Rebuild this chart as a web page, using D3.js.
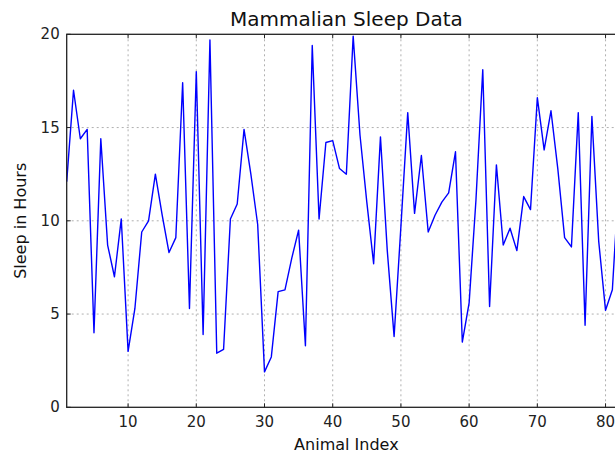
<!DOCTYPE html>
<html>
<head>
<meta charset="utf-8">
<script src="https://cdn.jsdelivr.net/npm/d3@7"></script>
<style>
  body { margin: 0; background: #fff; }
  svg { display: block; font-family: "DejaVu Sans", sans-serif; }
</style>
</head>
<body>
<div id="chart"></div>
<script>
// sleep_total per animal, in dataset order (index 1..83)
const sleepHours = [
  12.1, 17.0, 14.4, 14.9, 4.0, 14.4, 8.7, 7.0, 10.1, 3.0,
  5.3, 9.4, 10.0, 12.5, 10.3, 8.3, 9.1, 17.4, 5.3, 18.0,
  3.9, 19.7, 2.9, 3.1, 10.1, 10.9, 14.9, 12.5, 9.8, 1.9,
  2.7, 6.2, 6.3, 8.0, 9.5, 3.3, 19.4, 10.1, 14.2, 14.3,
  12.8, 12.5, 19.9, 14.6, 11.0, 7.7, 14.5, 8.4, 3.8, 9.7,
  15.8, 10.4, 13.5, 9.4, 10.3, 11.0, 11.5, 13.7, 3.5, 5.6,
  11.1, 18.1, 5.4, 13.0, 8.7, 9.6, 8.4, 11.3, 10.6, 16.6,
  13.8, 15.9, 12.8, 9.1, 8.6, 15.8, 4.4, 15.6, 8.9, 5.2,
  6.3, 12.5, 9.8
];
const xTicks = [10, 20, 30, 40, 50, 60, 70, 80];
const yTicks = [0, 5, 10, 15, 20];

const W = 615, H = 454;
const margin = { top: 34.3, left: 66.7 };
const plotW = 559.3, plotH = 373;

const svg = d3.select('#chart').append('svg')
    .attr('width', W)
    .attr('height', H);

const x = d3.scaleLinear()
    .domain([1, sleepHours.length])
    .range([margin.left, margin.left + plotW]);
const y = d3.scaleLinear()
    .domain([0, 20])
    .range([margin.top + plotH, margin.top]);

const pTop = margin.top, pBottom = margin.top + plotH;
const pLeft = margin.left, pRight = margin.left + plotW;

// grid
const grid = svg.append('g')
    .attr('stroke', '#b0b0b0')
    .attr('stroke-width', 1)
    .attr('stroke-dasharray', '2,3');
grid.selectAll('.vg').data(xTicks).enter().append('line')
    .attr('x1', (d) => x(d)).attr('x2', (d) => x(d))
    .attr('y1', pTop).attr('y2', pBottom);
grid.selectAll('.hg').data(yTicks.slice(1, -1)).enter().append('line')
    .attr('y1', (d) => y(d)).attr('y2', (d) => y(d))
    .attr('x1', pLeft).attr('x2', pRight);

// data line
const line = d3.line()
    .x((d, i) => x(i + 1))
    .y((d) => y(d));
svg.append('path')
    .datum(sleepHours)
    .attr('d', line)
    .attr('fill', 'none')
    .attr('stroke', '#0000ff')
    .attr('stroke-width', 1.4)
    .attr('stroke-linejoin', 'round');

// frame
svg.append('rect')
    .attr('x', pLeft).attr('y', pTop)
    .attr('width', plotW).attr('height', plotH)
    .attr('fill', 'none')
    .attr('stroke', '#222')
    .attr('stroke-width', 1.3);

// inward ticks
const ticks = svg.append('g').attr('stroke', '#222').attr('stroke-width', 1);
xTicks.forEach((t) => {
    ticks.append('line').attr('x1', x(t)).attr('x2', x(t))
        .attr('y1', pBottom).attr('y2', pBottom - 4);
    ticks.append('line').attr('x1', x(t)).attr('x2', x(t))
        .attr('y1', pTop).attr('y2', pTop + 4);
});
yTicks.forEach((t) => {
    ticks.append('line').attr('y1', y(t)).attr('y2', y(t))
        .attr('x1', pLeft).attr('x2', pLeft + 4);
    ticks.append('line').attr('y1', y(t)).attr('y2', y(t))
        .attr('x1', pRight).attr('x2', pRight - 4);
});

// tick labels
svg.append('g').selectAll('text').data(xTicks).enter().append('text')
    .attr('x', (d) => x(d))
    .attr('y', pBottom + 20)
    .attr('text-anchor', 'middle')
    .attr('font-size', 15)
    .attr('fill', '#222')
    .text((d) => d);
svg.append('g').selectAll('text').data(yTicks).enter().append('text')
    .attr('x', pLeft - 7)
    .attr('y', (d) => y(d) + 5)
    .attr('text-anchor', 'end')
    .attr('font-size', 15)
    .attr('fill', '#222')
    .text((d) => d);

// titles
svg.append('text')
    .attr('x', (pLeft + pRight) / 2)
    .attr('y', 26)
    .attr('text-anchor', 'middle')
    .attr('font-size', 20)
    .attr('fill', '#111')
    .text('Mammalian Sleep Data');
svg.append('text')
    .attr('x', (pLeft + pRight) / 2)
    .attr('y', 450)
    .attr('text-anchor', 'middle')
    .attr('font-size', 16)
    .attr('fill', '#111')
    .text('Animal Index');
svg.append('text')
    .attr('transform', `translate(26, ${(pTop + pBottom) / 2}) rotate(-90)`)
    .attr('text-anchor', 'middle')
    .attr('font-size', 16)
    .attr('fill', '#111')
    .text('Sleep in Hours');
</script>
</body>
</html>
